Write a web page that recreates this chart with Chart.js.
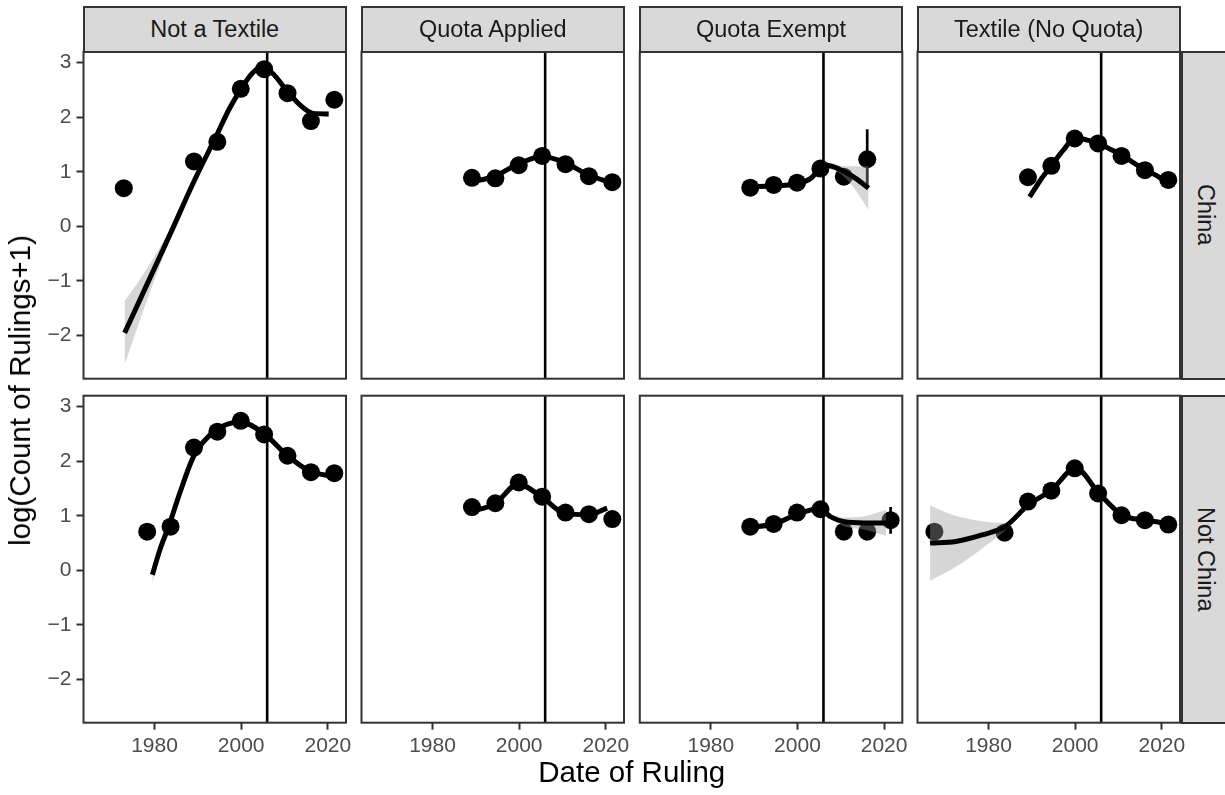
<!DOCTYPE html>
<html>
<head>
<meta charset="utf-8">
<script src="https://cdn.jsdelivr.net/npm/chart.js@4.4.1/dist/chart.umd.min.js"></script>
<style>
html,body{margin:0;padding:0;background:#fff;}
#wrap{position:relative;width:1225px;height:795px;overflow:hidden;font-family:"Liberation Sans",Arial,sans-serif;}
#wrap canvas{position:absolute;left:0;top:0;}
.strip{position:absolute;box-sizing:border-box;background:#d9d9d9;border:2px solid #333;color:#1a1a1a;font-size:23.5px;display:flex;align-items:center;justify-content:center;white-space:nowrap;}
.strip.v span{writing-mode:vertical-rl;}
.title{position:absolute;color:#000;font-size:29.5px;white-space:nowrap;}
</style>
</head>
<body>
<div id="wrap"></div>
<script>
// ---------------- DATA ----------------
const rowLabels = ['China', 'Not China'];
const colLabels = ['Not a Textile', 'Quota Applied', 'Quota Exempt', 'Textile (No Quota)'];
const xTicks = [1980, 2000, 2020];
const yTicks = [-2, -1, 0, 1, 2, 3];
const xLimits = [1963.6, 2024.2];
const yLimits = [-2.79, 3.2];
const cutoffYear = 2006;

// bin centres for the summary points
const binYears = [1967.5, 1972.9, 1978.3, 1983.7, 1989.1, 1994.5, 1999.9, 2005.3, 2010.7, 2016.1, 2021.5];

// China row
const chinaNotTextileMean   = [null, 0.70, null, null, 1.19, 1.55, 2.52, 2.88, 2.44, 1.93, 2.32];
const chinaNotTextileFitX   = [1973.1, 1978.1, 1983.5, 1989.2, 1994.4, 1997.3, 2000.0, 2002.5, 2004.8, 2007.3, 2010.4, 2013.5, 2016.6, 2020.2];
const chinaNotTextileFitY   = [-1.95, -1.09, -0.16, 0.84, 1.68, 2.16, 2.52, 2.80, 2.93, 2.80, 2.50, 2.23, 2.07, 2.06];
const chinaNotTextileFitSE  = [0.58, 0.30, 0.10, 0.05, 0.04, 0.04, 0.04, 0.04, 0.04, 0.04, 0.04, 0.04, 0.04, 0.05];

const chinaQuotaAppMean     = [null, null, null, null, 0.89, 0.88, 1.12, 1.29, 1.14, 0.92, 0.81];
const chinaQuotaAppFitX     = [1988.9, 1994.4, 1999.7, 2005.3, 2010.7, 2016.1, 2021.5];
const chinaQuotaAppFitY     = [0.81, 0.92, 1.14, 1.28, 1.16, 0.94, 0.79];
const chinaQuotaAppFitSE    = [0.04, 0.03, 0.03, 0.03, 0.03, 0.03, 0.04];

const chinaQuotaExMean      = [null, null, null, null, 0.71, 0.76, 0.80, 1.06, 0.91, 1.23, null];
const chinaQuotaExFitX      = [1989.1, 1994.6, 1998.0, 2000.5, 2003.1, 2004.8, 2006.2, 2008.0, 2010.9, 2013.6, 2016.4];
const chinaQuotaExFitY      = [0.73, 0.74, 0.76, 0.79, 0.88, 1.03, 1.12, 1.10, 1.00, 0.87, 0.70];
const chinaQuotaExFitSE     = [0.05, 0.03, 0.03, 0.03, 0.03, 0.04, 0.05, 0.06, 0.10, 0.23, 0.40];
const chinaQuotaExErrX      = [2016.1];
const chinaQuotaExErrLo     = [0.70];
const chinaQuotaExErrHi     = [1.78];

const chinaTextileMean      = [null, null, null, null, 0.90, 1.11, 1.61, 1.52, 1.29, 1.03, 0.85];
const chinaTextileFitX      = [1989.5, 1992.0, 1994.5, 1997.3, 2000.1, 2002.8, 2005.5, 2008.2, 2010.9, 2013.6, 2016.3, 2019.0, 2021.6];
const chinaTextileFitY      = [0.54, 0.85, 1.11, 1.40, 1.63, 1.58, 1.52, 1.41, 1.30, 1.16, 1.03, 0.92, 0.78];
const chinaTextileFitSE     = [0.06, 0.04, 0.03, 0.03, 0.03, 0.03, 0.03, 0.03, 0.03, 0.03, 0.03, 0.03, 0.04];

// Not China row
const otherNotTextileMean   = [null, null, 0.71, 0.80, 2.25, 2.54, 2.74, 2.49, 2.10, 1.80, 1.78];
const otherNotTextileFitX   = [1979.5, 1981.2, 1983.5, 1985.8, 1989.1, 1994.2, 1999.8, 2005.2, 2010.6, 2016.0, 2021.0];
const otherNotTextileFitY   = [-0.08, 0.37, 0.86, 1.41, 2.10, 2.57, 2.72, 2.51, 2.11, 1.81, 1.73];
const otherNotTextileFitSE  = [0.17, 0.08, 0.05, 0.04, 0.03, 0.03, 0.03, 0.03, 0.03, 0.03, 0.04];

const otherQuotaAppMean     = [null, null, null, null, 1.16, 1.23, 1.61, 1.35, 1.06, 1.03, 0.94];
const otherQuotaAppFitX     = [1988.9, 1994.4, 1999.7, 2005.3, 2010.7, 2016.1, 2020.3];
const otherQuotaAppFitY     = [1.08, 1.22, 1.58, 1.34, 1.04, 1.02, 1.14];
const otherQuotaAppFitSE    = [0.04, 0.03, 0.03, 0.03, 0.03, 0.03, 0.05];

const otherQuotaExMean      = [null, null, null, null, 0.80, 0.85, 1.06, 1.12, 0.71, 0.71, 0.92];
const otherQuotaExFitX      = [1989.1, 1994.6, 2000.0, 2005.0, 2007.7, 2010.8, 2015.4, 2020.5];
const otherQuotaExFitY      = [0.79, 0.85, 1.03, 1.13, 0.98, 0.89, 0.87, 0.87];
const otherQuotaExFitSE     = [0.04, 0.03, 0.03, 0.03, 0.04, 0.08, 0.12, 0.24];
const otherQuotaExErrX      = [2021.5];
const otherQuotaExErrLo     = [0.67];
const otherQuotaExErrHi     = [1.16];

const otherTextileMean      = [0.71, null, null, 0.69, 1.26, 1.46, 1.87, 1.41, 1.01, 0.92, 0.84];
const otherTextileFitX      = [1966.5, 1972.4, 1978.5, 1983.8, 1989.2, 1994.5, 2000.1, 2005.5, 2010.9, 2016.3, 2021.6];
const otherTextileFitY      = [0.50, 0.53, 0.65, 0.80, 1.20, 1.47, 1.87, 1.41, 1.01, 0.92, 0.86];
const otherTextileFitSE     = [0.69, 0.47, 0.25, 0.07, 0.04, 0.03, 0.03, 0.03, 0.03, 0.03, 0.03];

const panels = [
  [
    {mean: chinaNotTextileMean, fx: chinaNotTextileFitX, fy: chinaNotTextileFitY, se: chinaNotTextileFitSE},
    {mean: chinaQuotaAppMean, fx: chinaQuotaAppFitX, fy: chinaQuotaAppFitY, se: chinaQuotaAppFitSE},
    {mean: chinaQuotaExMean, fx: chinaQuotaExFitX, fy: chinaQuotaExFitY, se: chinaQuotaExFitSE,
     ex: chinaQuotaExErrX, elo: chinaQuotaExErrLo, ehi: chinaQuotaExErrHi},
    {mean: chinaTextileMean, fx: chinaTextileFitX, fy: chinaTextileFitY, se: chinaTextileFitSE}
  ],
  [
    {mean: otherNotTextileMean, fx: otherNotTextileFitX, fy: otherNotTextileFitY, se: otherNotTextileFitSE},
    {mean: otherQuotaAppMean, fx: otherQuotaAppFitX, fy: otherQuotaAppFitY, se: otherQuotaAppFitSE},
    {mean: otherQuotaExMean, fx: otherQuotaExFitX, fy: otherQuotaExFitY, se: otherQuotaExFitSE,
     ex: otherQuotaExErrX, elo: otherQuotaExErrLo, ehi: otherQuotaExErrHi},
    {mean: otherTextileMean, fx: otherTextileFitX, fy: otherTextileFitY, se: otherTextileFitSE}
  ]
];

// ---------------- LAYOUT ----------------
const W = 1225, H = 795;
const colLeft = [83.5, 361.5, 639.8, 917.5];
const panelW = 262.5;
const rowTop = [51.7, 395.7];
const panelH = 327;
const FONT = '"Liberation Sans", Arial, sans-serif';
Chart.defaults.font.family = FONT;

const wrap = document.getElementById('wrap');

const borderPlugin = {
  id: 'panelBorder',
  afterDraw(chart) {
    const a = chart.chartArea, ctx = chart.ctx;
    ctx.save();
    ctx.strokeStyle = '#333333';
    ctx.lineWidth = 2;
    ctx.strokeRect(a.left, a.top, a.right - a.left, a.bottom - a.top);
    ctx.restore();
  }
};

function fmtY(v) { return v < 0 ? '\u2212' + Math.abs(v) : String(v); }

for (let r = 0; r < 2; r++) {
  for (let c = 0; c < 4; c++) {
    const p = panels[r][c];
    const cv = document.createElement('canvas');
    cv.width = W; cv.height = H;
    cv.style.width = W + 'px'; cv.style.height = H + 'px';
    wrap.appendChild(cv);

    const pts = [];
    binYears.forEach((x, i) => { if (p.mean[i] !== null) pts.push({x: x, y: p.mean[i]}); });
    const fit = p.fx.map((x, i) => ({x: x, y: p.fy[i]}));
    const hi = p.fx.map((x, i) => ({x: x, y: p.fy[i] + p.se[i]}));
    const lo = p.fx.map((x, i) => ({x: x, y: p.fy[i] - p.se[i]}));
    const err = [];
    if (p.ex) p.ex.forEach((x, i) => { err.push({x: x, y: p.elo[i]}, {x: x, y: p.ehi[i]}, {x: x, y: null}); });

    const datasets = [
      {label: 'err', data: err, borderColor: '#000', borderWidth: 2.7, pointRadius: 0, spanGaps: false, order: 5, fill: false},
      {label: 'mean', data: pts, showLine: false, pointRadius: 9, pointHoverRadius: 9, pointBackgroundColor: '#000', pointBorderWidth: 0, order: 4},
      {label: 'hi', data: hi, borderWidth: 0, pointRadius: 0, fill: '+1', backgroundColor: 'rgba(153,153,153,0.4)', cubicInterpolationMode: 'monotone', order: 3},
      {label: 'lo', data: lo, borderWidth: 0, pointRadius: 0, fill: false, cubicInterpolationMode: 'monotone', order: 3},
      {label: 'fit', data: fit, borderColor: '#000', borderWidth: 5, pointRadius: 0, fill: false, cubicInterpolationMode: 'monotone', borderCapStyle: 'butt', order: 2},
      {label: 'vline', data: [{x: cutoffYear, y: yLimits[0]}, {x: cutoffYear, y: yLimits[1]}], borderColor: '#000', borderWidth: 2.6, pointRadius: 0, fill: false, order: 1}
    ];

    const showY = c === 0, showX = r === 1;
    const padLeft = showY ? 0 : colLeft[c];
    const padRight = W - colLeft[c] - panelW;
    const padTop = rowTop[r];
    const padBottom = showX ? 0 : H - rowTop[r] - panelH;

    new Chart(cv, {
      type: 'line',
      data: {datasets: datasets},
      options: {
        responsive: false,
        animation: false,
        devicePixelRatio: 1,
        events: [],
        layout: {padding: {left: padLeft, right: padRight, top: padTop, bottom: padBottom}},
        plugins: {legend: {display: false}, tooltip: {enabled: false}, title: {display: false}},
        scales: {
          x: {
            type: 'linear', min: xLimits[0], max: xLimits[1], display: showX, position: 'bottom',
            afterFit: s => { if (showX) s.height = H - rowTop[1] - panelH; },
            afterBuildTicks: s => { s.ticks = xTicks.map(v => ({value: v})); },
            ticks: {font: {size: 21, family: FONT}, color: '#4d4d4d', padding: 4, maxRotation: 0, autoSkip: false, callback: v => String(v)},
            grid: {display: true, drawOnChartArea: false, drawTicks: true, tickLength: 7, tickWidth: 2, tickColor: '#333333'},
            border: {display: false}
          },
          y: {
            type: 'linear', min: yLimits[0], max: yLimits[1], display: showY, position: 'left',
            afterFit: s => { if (showY) s.width = colLeft[0]; },
            afterBuildTicks: s => { s.ticks = yTicks.map(v => ({value: v})); },
            ticks: {font: {size: 21, family: FONT}, color: '#4d4d4d', padding: 5, autoSkip: false, callback: v => fmtY(v)},
            grid: {display: true, drawOnChartArea: false, drawTicks: true, tickLength: 7, tickWidth: 2, tickColor: '#333333'},
            border: {display: false}
          }
        }
      },
      plugins: [borderPlugin]
    });
  }
}

// ---------------- STRIPS & TITLES ----------------
function addDiv(cls, text, css) {
  const d = document.createElement('div');
  d.className = cls;
  const s = document.createElement('span');
  s.textContent = text;
  d.appendChild(s);
  Object.assign(d.style, css);
  wrap.appendChild(d);
  return d;
}
colLabels.forEach((t, c) => {
  addDiv('strip', t, {left: (colLeft[c] - 1) + 'px', top: '6px', width: (panelW + 2) + 'px', height: (rowTop[0] - 6 + 1) + 'px'});
});
rowLabels.forEach((t, r) => {
  addDiv('strip v', t, {left: (colLeft[3] + panelW + 1) + 'px', top: (rowTop[r] - 1) + 'px', width: '48px', height: (panelH + 2) + 'px'});
});
addDiv('title', 'Date of Ruling', {left: (colLeft[0] + (colLeft[3] + panelW - colLeft[0]) / 2) + 'px', top: '755px', transform: 'translateX(-50%)'});
const yt = addDiv('title', 'log(Count of Rulings+1)', {left: '3px', top: (rowTop[0] + (rowTop[1] + panelH - rowTop[0]) / 2) + 'px', transform: 'translateY(-50%) rotate(180deg)'});
yt.firstChild.style.writingMode = 'vertical-rl';
</script>
</body>
</html>
